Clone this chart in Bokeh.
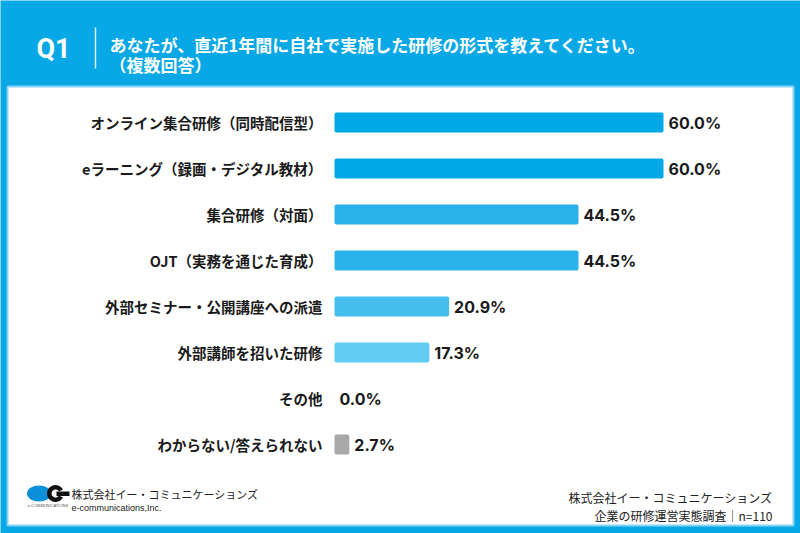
from bokeh.plotting import figure
from bokeh.models import Range1d
from bokeh.core.properties import value
from bokeh.embed import file_html
from bokeh.resources import INLINE

# ---- data ----
categories = [
    "オンライン集合研修（同時配信型）",
    "eラーニング（録画・デジタル教材）",
    "集合研修（対面）",
    "OJT（実務を通じた育成）",
    "外部セミナー・公開講座への派遣",
    "外部講師を招いた研修",
    "その他",
    "わからない/答えられない",
]
percentages = [60.0, 60.0, 44.5, 44.5, 20.9, 17.3, 0.0, 2.7]
bar_colors = ["#00A8E6", "#00A8E6", "#2AB2EA", "#2AB2EA",
              "#45BEEE", "#62CBF2", "#62CBF2", "#A8A8A8"]
question_no = "Q1"
question_lines = ["あなたが、直近1年間に自社で実施した研修の形式を教えてください。",
                  "（複数回答）"]
company_jp = "株式会社イー・コミュニケーションズ"
company_en = "e-communications,Inc."
logo_caption = "e-COMMUNICATIONS"
survey_name = "企業の研修運営実態調査｜n=110"

W, H = 800, 533
BLUE = "#08A8E6"
JP = value("Noto Sans CJK JP")

# canvas layout: bar baseline and scale in pixels
X0_PX, PX_PER_PCT = 334, 329 / 60.0
ROW0_PX, ROW_STEP_PX = 122, 46


def xd(px):
    return (px - X0_PX) / PX_PER_PCT


def yd(py):
    return (py - ROW0_PX) / ROW_STEP_PX


p = figure(width=W, height=H, output_backend="svg", toolbar_location=None,
           x_range=Range1d(xd(0), xd(W)), y_range=Range1d(yd(H), yd(0)),
           min_border=0, x_axis_location=None, y_axis_location=None,
           background_fill_color=BLUE, border_fill_color=BLUE,
           outline_line_color=None)
p.grid.visible = False

# white content panel
p.quad(left=xd(7), right=xd(793), top=yd(86), bottom=yd(525),
       fill_color="white", line_color="#86D3F3", line_width=2)

# header
p.text(x=[xd(36)], y=[yd(48)], text=[question_no], text_color="white",
       text_font=value("Roboto"), text_font_style="bold", text_font_size="27px",
       text_baseline="middle", text_align="left")
p.segment(x0=[xd(95)], y0=[yd(27)], x1=[xd(95)], y1=[yd(68)],
          line_color="white", line_width=1.5, line_alpha=0.85)
p.text(x=[xd(109), xd(109)], y=[yd(44), yd(64)], text=question_lines,
       text_color="white", text_font=JP, text_font_style="bold",
       text_font_size="17px", text_baseline="middle", text_align="left")

rows = list(range(len(categories)))

# bars
p.hbar(y=rows, left=0, right=percentages, height=20 / ROW_STEP_PX,
       fill_color=bar_colors, line_color=None, border_radius=2)

# category labels
p.text(x=[0] * len(rows), y=rows, text=categories, x_offset=-12,
       text_align="right", text_baseline="middle", text_color="#1A1A1A",
       text_font=JP, text_font_style="bold", text_font_size="14.5px")

# value labels
p.text(x=percentages, y=rows, text=[f"{v:.1f}%" for v in percentages],
       x_offset=5, text_align="left", text_baseline="middle",
       text_color="#1A1A1A", text_font=value("Inter"), text_font_style="bold",
       text_font_size="16px")

# company logo
p.ellipse(x=[xd(38.5)], y=[yd(493)], width=24, height=16,
          width_units="screen", height_units="screen",
          fill_color="#0A8FD8", line_color=None)
p.annular_wedge(x=[xd(55)], y=[yd(493)], inner_radius=4, outer_radius=8.5,
                inner_radius_units="screen", outer_radius_units="screen",
                start_angle=0.5, end_angle=-0.5, direction="anticlock",
                fill_color="#111111", line_color=None)
p.quad(left=[xd(56)], right=[xd(69)], top=[yd(491)], bottom=[yd(495.5)],
       fill_color="#111111", line_color=None)
p.text(x=[xd(27)], y=[yd(505)], text=[logo_caption], text_color="#555555",
       text_font=value("Liberation Sans"), text_font_size="4px",
       text_baseline="middle")

p.text(x=[xd(71)], y=[yd(493)], text=[company_jp], text_color="#222222",
       text_font=JP, text_font_size="11px", text_baseline="middle")
p.text(x=[xd(71)], y=[yd(507)], text=[company_en], text_color="#222222",
       text_font=value("Liberation Sans"), text_font_size="9px",
       text_baseline="middle")

# survey credit
p.text(x=[xd(772), xd(772)], y=[yd(497), yd(515)], text=[company_jp, survey_name],
       text_color="#222222", text_font=JP, text_font_size="12px",
       text_baseline="middle", text_align="right")

open("out.html", "w").write(file_html(p, INLINE))
